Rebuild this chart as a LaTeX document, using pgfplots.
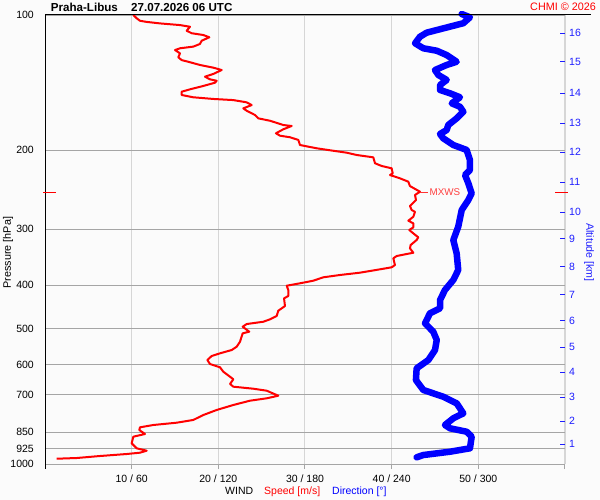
\documentclass[border=0pt]{standalone}
\usepackage{pgfplots}
\pgfplotsset{compat=1.18}
\usepackage{pgfplotstable}
\usepackage{fontspec}
\setmainfont{Liberation Sans}
\definecolor{gridv}{RGB}{214,214,214}
\definecolor{gridh}{RGB}{165,165,165}
\definecolor{bgc}{RGB}{251,251,251}
\definecolor{altblue}{RGB}{30,30,255}

\pgfplotstableread{
s p
10.19 100
10.58 101.7
10.96 103.0
11.73 103.6
13.27 104.4
15.58 105.3
16.73 106.2
16.35 108.4
16.93 109.8
18.26 110.8
18.96 112.1
18.08 114.1
17.88 116.0
17.11 117.6
15.58 118.6
15.00 119.7
15.58 121.7
15.38 124.2
15.77 126.0
16.73 127.4
17.88 129.2
19.42 131.0
20.39 132.6
19.42 135.3
18.46 137.2
19.04 139.1
19.81 140.1
19.62 141.5
18.26 143.9
16.73 146.4
15.77 148.2
15.77 150.7
17.11 152.5
19.42 153.8
21.73 154.7
23.27 156.5
23.85 158.7
22.88 161.4
23.27 163.4
24.23 167.0
24.61 169.9
25.96 172.0
27.50 175.8
28.46 176.7
27.50 179.7
26.65 183.4
27.11 185.7
28.27 187.2
29.23 189.8
29.42 194.8
31.35 198.1
33.26 200.6
34.81 202.6
35.96 205.0
37.88 207.5
38.08 213.9
38.85 216.9
40.00 219.5
40.12 225.2
39.81 227.2
40.96 231.1
41.92 235.1
42.11 240.4
43.27 247.5
42.69 251.7
42.81 258.2
42.11 266.3
42.31 271.9
42.69 274.3
42.50 281.4
41.92 287.2
42.50 291.1
42.50 297.1
42.03 301.2
42.50 306.4
43.07 312.7
42.88 317.1
42.19 325.3
42.11 330.9
42.50 338.4
41.73 340.7
40.58 344.2
40.19 348.3
40.38 360.5
40.00 364.7
38.65 368.5
36.35 374.9
34.04 379.4
32.11 383.9
30.96 390.7
29.42 395.9
27.89 400.8
28.07 409.7
28.07 422.5
27.58 427.6
27.69 444.8
26.92 455.6
26.73 468.2
25.96 476.2
25.19 482.1
23.27 487.8
22.81 494.6
23.57 507.4
22.81 511.6
22.50 534.1
22.12 548.0
21.54 557.4
20.19 566.9
19.23 574.8
18.73 586.7
19.04 598.8
20.19 609.0
20.57 622.9
21.35 639.1
21.73 647.7
21.35 663.4
21.73 672.7
24.04 679.7
25.58 686.7
26.92 704.6
25.58 714.0
23.65 722.8
21.73 738.9
19.81 758.1
18.27 777.9
17.11 798.0
15.19 809.1
12.50 818.7
10.96 828.5
10.88 840.0
11.54 857.4
10.19 869.3
10.00 899.3
10.58 922.6
11.73 934.1
10.96 943.6
9.43 950.0
6.35 959.8
3.66 969.7
1.35 973.2
}\speedtab

\pgfplotstableread{
d p
288.5 99.5
294.2 101.2
289.6 104.3
275.7 107.1
264.2 109.5
259.6 111.8
256.2 115.6
261.9 118.6
271.2 120.1
278.1 122.8
285.0 127.1
278.1 129.2
270.0 132.6
272.3 136.0
278.1 139.5
273.5 143.2
273.5 146.9
280.4 149.4
287.3 152.5
281.6 157.3
287.3 160.1
289.6 164.3
285.0 169.9
279.2 175.8
278.1 180.4
273.5 184.1
275.7 188.2
282.7 194.8
291.9 199.8
294.2 210.4
294.2 221.4
290.8 227.2
293.1 237.1
295.4 249.6
293.1 258.2
288.5 271.9
286.1 296.2
282.7 317.1
285.0 339.4
286.1 369.7
282.7 389.2
276.9 409.7
273.5 431.3
273.5 450.1
266.5 461.8
263.1 486.1
268.8 507.4
271.2 529.4
270.0 557.4
265.4 586.7
257.3 612.2
256.8 650.2
261.9 684.1
275.7 708.2
285.0 732.6
289.6 771.2
282.7 791.1
276.9 818.7
280.4 832.7
291.9 847.4
295.4 869.3
294.2 922.6
280.4 938.9
261.9 955.0
257.3 966.2
}\dirtab

\begin{document}
\begin{tikzpicture}
\path[use as bounding box, fill=bgc] (0,0) rectangle (600pt,500pt);

\begin{axis}[
  at={(45pt,36pt)}, anchor=south west,
  scale only axis, width=520pt, height=449pt,
  xmin=0, xmax=60, ymin=100, ymax=1000,
  ymode=log, y dir=reverse,
  axis line style={draw=none},
  clip=false,
  xtick={10,20,30,40,50,60},
  xticklabels={10 / 60,20 / 120,30 / 180,40 / 240,50 / 300,{}},
  ytick={100,200,300,400,500,600,700,850,925,1000},
  yticklabels={100,200,300,400,500,600,700,850,925,1000},
  xmajorgrids, ymajorgrids,
  x grid style={color=gridv, line width=1pt},
  y grid style={color=gridh, line width=1pt},
  xtick pos=bottom, ytick pos=left,
  tick align=outside,
  major tick length=5pt,
  xtick style={draw=gridh, line width=1pt},
  ytick style={draw=none},
  xticklabel style={font=\fontsize{10.5}{12}\selectfont, inner sep=0pt, anchor=north, yshift=-6pt},
  yticklabel style={font=\fontsize{10.5}{12}\selectfont, inner sep=0pt, anchor=east, xshift=-6pt},
]
\addplot[draw=red, line width=2pt, line join=round] table[x=s, y=p] {\speedtab};
\addplot[draw=blue, line width=6.5pt, line join=round, line cap=round] table[x expr=\thisrow{d}/6, y=p] {\dirtab};
\end{axis}

\begin{axis}[
  at={(45pt,36pt)}, anchor=south west,
  scale only axis, width=520pt, height=449pt,
  xmin=0, xmax=60, ymin=100, ymax=1000,
  ymode=log, y dir=reverse,
  axis x line=none, axis y line*=right,
  y axis line style={draw=gridv, line width=1pt, -},
  ytick={109.7,127.2,149.2,174.0,201.9,235.5,274.7,315.4,364.1,420.3,480.2,548.8,624.0,709.4,802.4,902.7},
  yticklabels={16,15,14,13,12,11,10,9,8,7,6,5,4,3,2,1},
  ytick align=inside, major tick length=5pt,
  ytick style={draw=altblue, line width=1pt},
  yticklabel style={font=\fontsize{10.5}{12}\selectfont, text=altblue, inner sep=0pt, anchor=west, xshift=4pt},
]
\end{axis}

% frame lines
\draw[black, line width=1pt] (45pt,31pt) -- (45pt,485pt);
\draw[black, line width=1pt] (45pt,485pt) -- (591pt,485pt);
% MXWS markers
\draw[red, line width=1pt] (43pt,307.7pt) -- (56pt,307.7pt);
\draw[red, line width=1pt] (555pt,307.7pt) -- (568pt,307.7pt);
\draw[red!80, line width=1pt] (420pt,307.7pt) -- (428pt,307.7pt);
\node[anchor=west, inner sep=0pt, text=red!75, font=\fontsize{9.8}{11}\selectfont] at (429.5pt,307.7pt) {MXWS};

% titles
\node[anchor=base west, inner sep=0pt, font=\bfseries\fontsize{11.6}{13}\selectfont] at (50.7pt,488.3pt) {Praha-Libus};
\node[anchor=base west, inner sep=0pt, font=\bfseries\fontsize{11.6}{13}\selectfont] at (131pt,488.3pt) {27.07.2026 06 UTC};
\node[anchor=base east, inner sep=0pt, text=red, font=\fontsize{10.8}{12}\selectfont] at (596pt,489.3pt) {CHMI © 2026};

% axis labels
\node[rotate=90, inner sep=0pt, font=\fontsize{10.8}{12}\selectfont] at (8pt,247.5pt) {Pressure [hPa]};
\node[rotate=-90, inner sep=0pt, text=altblue, font=\fontsize{10.6}{12}\selectfont] at (589pt,247.5pt) {Altitude [km]};
\node[anchor=base west, inner sep=0pt, font=\fontsize{10.5}{12}\selectfont] at (225pt,5pt) {WIND};
\node[anchor=base west, inner sep=0pt, text=red, font=\fontsize{10.5}{12}\selectfont] at (264pt,5pt) {Speed [m/s]};
\node[anchor=base west, inner sep=0pt, text=blue, font=\fontsize{10.5}{12}\selectfont] at (332pt,5pt) {Direction [°]};
\end{tikzpicture}
\end{document}
